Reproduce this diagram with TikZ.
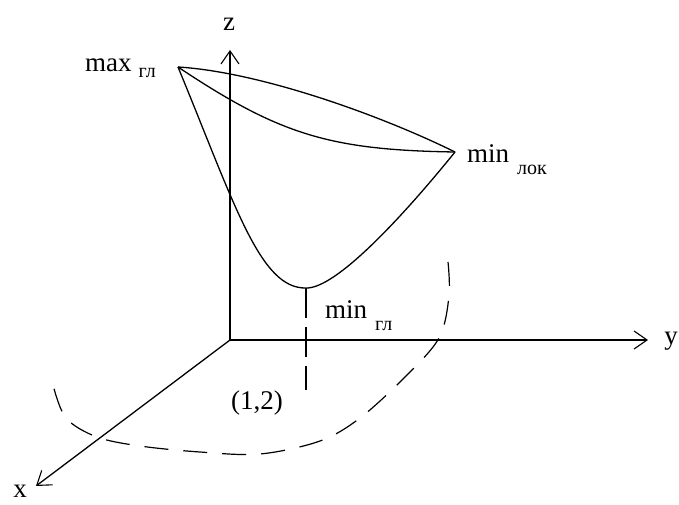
\documentclass[tikz,border=0pt]{standalone}
\usepackage{fontspec}
\setmainfont{Liberation Serif}
\usetikzlibrary{arrows.meta}
\begin{document}
\begin{tikzpicture}[x=1pt,y=-1pt,
  axis/.style={line width=1.3pt,-{Straight Barb[length=13pt,width=18pt,line width=1.1pt]}},
  curve/.style={line width=1.3pt},
  dashcurve/.style={line width=1.2pt,dash pattern=on 24pt off 15pt},
  dropline/.style={line width=1.2pt,dash pattern=on 30pt off 9pt},
  lab/.style={inner sep=0pt,font=\fontsize{27}{30}\selectfont}]
\useasboundingbox (0,0) rectangle (679,505);
% points
\coordinate (O) at (230,340);
\coordinate (zend) at (230,50);
\coordinate (yend) at (648,340);
\coordinate (xend) at (36,486);
\coordinate (max) at (178,67);
\coordinate (minlok) at (455,152);
\coordinate (mingl) at (306,288);
\coordinate (foot) at (306,390);
% axes
\draw[axis] (O) -- (zend);
\draw[axis] (O) -- (yend);
\draw[axis] (O) -- (xend);
\node[lab] (zl) at (229,24) {z};
\node[lab] (yl) at (671,341) {y};
\node[lab] (xl) at (20,491) {x};
% surface curves
\draw[curve] (max) .. controls (260,72) and (380,115) .. (minlok);
\draw[curve] (max) .. controls (280,135) and (330,150) .. (minlok);
\draw[curve] (max) .. controls (235,205) and (260,289) .. (mingl) .. controls (335,289) and (400,220) .. (minlok);
% drop line
\draw[dropline] (mingl) -- (foot);
% dashed region boundary
\draw[dashcurve] plot[smooth,tension=0.55] coordinates {(448,262) (449,296) (439,338) (405,377) (360,418) (320,441) (260,454) (200,452) (140,446) (97,437) (66,418) (53,385)};
% labels
\node[lab,anchor=base west] (maxl) at (85,72) {max\hspace{7pt}\raisebox{-6pt}{\fontsize{20}{22}\selectfont гл}};
\node[lab,anchor=base west] (minlokl) at (467,163) {min\hspace{8pt}\raisebox{-12pt}{\fontsize{20}{22}\selectfont лок}};
\node[lab,anchor=base west] (mingll) at (325,318) {min\hspace{8pt}\raisebox{-12pt}{\fontsize{20}{22}\selectfont гл}};
\node[lab] (pt) at (257,403) {(1,2)};
\end{tikzpicture}
\end{document}
